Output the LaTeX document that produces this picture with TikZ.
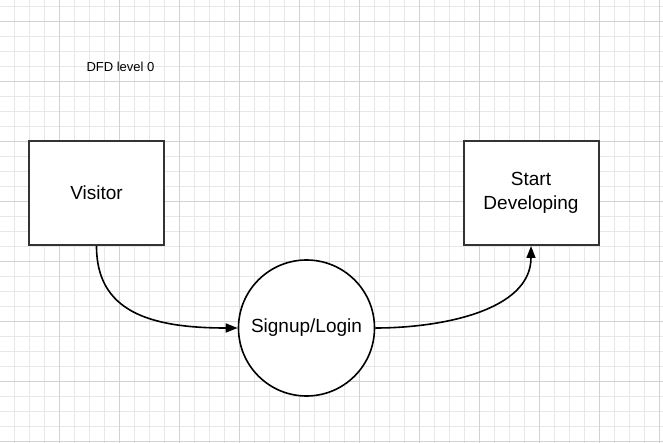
\documentclass[tikz,border=0pt]{standalone}
\usepackage{fontspec}
\setmainfont{Liberation Sans}
\usepackage{tikz}
\usetikzlibrary{arrows.meta, positioning, shapes.geometric}

\definecolor{minorline}{HTML}{E8E8E8}
\definecolor{majorline}{HTML}{D2D2D2}
\definecolor{boxline}{HTML}{333333}

\begin{document}
\begin{tikzpicture}[
  x=1pt, y=-1pt,
  minorgrid/.style={draw=minorline, line width=0.8pt},
  majorgrid/.style={draw=majorline, line width=0.9pt},
  entity/.style={draw=boxline, line width=2pt, fill=white, minimum width=135pt, minimum height=104pt, align=center, font=\fontsize{19}{24}\selectfont},
  process/.style={circle, draw=black, line width=1.6pt, fill=white, minimum size=136pt, font=\fontsize{19}{24}\selectfont},
  flow/.style={line width=1.6pt, -{Triangle[length=12pt,width=9pt]}},
  caption/.style={font=\fontsize{13}{15}\selectfont},
]
\useasboundingbox (0,0) rectangle (663,443);
\fill[white] (0,0) rectangle (663,443);

% background grid
\foreach \gx in {14.3,29.3,...,663} \draw[minorgrid] (\gx,0) -- (\gx,443);
\foreach \gy in {6,21,...,443} \draw[minorgrid] (0,\gy) -- (663,\gy);
\foreach \gx in {59.3,119.3,...,663} \draw[majorgrid] (\gx,0) -- (\gx,443);
\foreach \gy in {21,81,...,443} \draw[majorgrid] (0,\gy) -- (663,\gy);

% title
\node[caption] (title) at (120.5,67) {DFD level 0};

% external entities and process
\node[entity] (visitor) at (96.5,193) {Visitor};
\node[entity] (develop) at (531,193) {Start\\Developing};
\node[process] (signup) at (306.5,328) {Signup/Login};

% data flows
\draw[flow] (visitor.south) .. controls +(0,65) and +(-89,0) .. (signup.west);
\draw[flow] (signup.east) .. controls +(65,0) and +(0,65) .. (develop.south);
\end{tikzpicture}
\end{document}
